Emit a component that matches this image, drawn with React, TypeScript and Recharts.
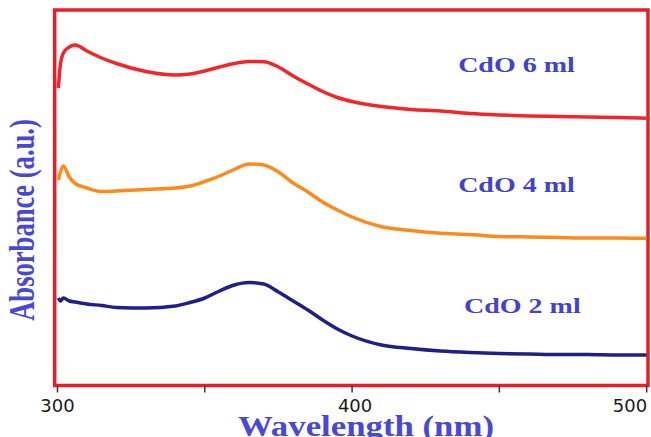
import { Line, LineChart, ReferenceArea, ReferenceDot, XAxis, YAxis } from "recharts";

// wavelength grid (nm) and absorbance (arbitrary units, offset per sample)
const wavelength = [
  300.3, 301, 302, 304, 306, 310, 315, 320, 330, 340, 345, 350, 355, 360, 365, 370, 375, 380, 385, 390,
  395, 400, 410, 420, 430, 440, 450, 460, 470, 480, 490, 500,
];
const cdo6 = [
  2.975, 3.215, 3.325, 3.385, 3.405, 3.345, 3.275, 3.22, 3.14, 3.105, 3.115, 3.145, 3.185, 3.22, 3.24, 3.238,
  3.185, 3.095, 3.015, 2.94, 2.88, 2.84, 2.79, 2.76, 2.745, 2.72, 2.705, 2.695, 2.69, 2.685, 2.68, 2.672,
];
const cdo4 = [
  2.055, 2.135, 2.195, 2.085, 2.02, 1.975, 1.94, 1.945, 1.96, 1.975, 1.995, 2.04, 2.095, 2.16, 2.215, 2.205,
  2.135, 2.025, 1.935, 1.835, 1.755, 1.685, 1.588, 1.55, 1.522, 1.51, 1.49, 1.485, 1.48, 1.475, 1.475, 1.472,
];
const cdo2 = [
  0.875, 0.845, 0.875, 0.845, 0.835, 0.815, 0.8, 0.78, 0.775, 0.795, 0.83, 0.875, 0.945, 1.005, 1.03, 1.015,
  0.935, 0.845, 0.755, 0.655, 0.565, 0.495, 0.405, 0.37, 0.345, 0.33, 0.32, 0.315, 0.31, 0.31, 0.305, 0.305,
];
const xTicks = [300, 350, 400, 450, 500];
const seriesLabels = [
  { text: "CdO 6 ml", nm: 455.8, value: 3.138 },
  { text: "CdO 4 ml", nm: 455.8, value: 1.938 },
  { text: "CdO 2 ml", nm: 457.8, value: 0.722 },
];

const data = wavelength.map((nm, i) => ({ nm, cdo6: cdo6[i], cdo4: cdo4[i], cdo2: cdo2[i] }));

const TITLE_BLUE = "#4848d6";
const SERIF = '"Liberation Serif", "Times New Roman", serif';

function Tick({ x, y, payload }: any) {
  const v = payload.value;
  if (v % 100 !== 0) return null;
  const dx = v === 500 ? -9 : v === 400 ? 3 : 0;
  return (
    <text x={x + dx} y={y} dy="0.71em" textAnchor="middle" fontSize={18} fontFamily='"DejaVu Sans", sans-serif' fill="#1a1a1a">
      {v}
    </text>
  );
}

function SeriesLabel({ viewBox, text }: any) {
  return (
    <text
      transform={`translate(${viewBox.x},${viewBox.y}) scale(1.4,1)`}
      textAnchor="middle"
      fontFamily={SERIF}
      fontWeight="bold"
      fontSize={20}
      fill="#4242d2"
    >
      {text}
    </text>
  );
}

function XTitle() {
  return (
    <text transform="translate(366,436) scale(1.16,1)" textAnchor="middle" fontFamily={SERIF} fontWeight="bold" fontSize={30} fill={TITLE_BLUE}>
      Wavelength (nm)
    </text>
  );
}

function YTitle() {
  return (
    <text
      transform="translate(34,220) rotate(-90) scale(0.76,1)"
      textAnchor="middle"
      fontFamily={SERIF}
      fontWeight="bold"
      fontSize={35}
      fill={TITLE_BLUE}
    >
      Absorbance (a.u.)
    </text>
  );
}

export default function App() {
  return (
    <div style={{ width: 651, height: 437, background: "#fff" }}>
      <style>{"body{margin:0}"}</style>
      <LineChart width={651} height={437} data={data} margin={{ top: 10, right: 3, left: 0, bottom: 21.5 }}>
        <XAxis
          type="number"
          dataKey="nm"
          domain={[299.05, 500.45]}
          allowDataOverflow
          ticks={xTicks}
          axisLine={false}
          tickLine={{ stroke: "#333", strokeWidth: 1.5 }}
          tickSize={7}
          tickMargin={7}
          tick={<Tick />}
          height={30}
          label={<XTitle />}
        />
        <YAxis
          type="number"
          domain={[0, 3.755]}
          allowDataOverflow
          tick={false}
          axisLine={false}
          tickLine={false}
          width={54.7}
          label={<YTitle />}
        />
        <Line type="monotone" dataKey="cdo6" stroke="#f2262a" strokeWidth={3.5} dot={false} isAnimationActive={false} />
        <Line type="monotone" dataKey="cdo4" stroke="#ff8a1c" strokeWidth={3.5} dot={false} isAnimationActive={false} />
        <Line type="monotone" dataKey="cdo2" stroke="#1f1f8c" strokeWidth={3.5} dot={false} isAnimationActive={false} />
        <ReferenceArea
          x1={299.05}
          x2={500.45}
          y1={0}
          y2={3.755}
          fill="none"
          fillOpacity={0}
          stroke="#ec1c24"
          strokeWidth={3.5}
          strokeOpacity={1}
        />
        {seriesLabels.map((l) => (
          <ReferenceDot key={l.text} x={l.nm} y={l.value} r={0} fill="none" stroke="none" label={<SeriesLabel text={l.text} />} />
        ))}
      </LineChart>
    </div>
  );
}
